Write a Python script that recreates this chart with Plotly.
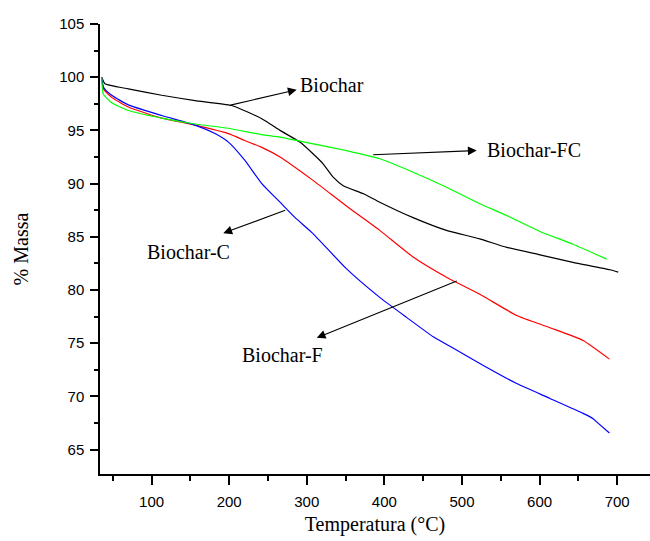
import plotly.graph_objects as go

# Biochar (black)
t_biochar = [35.7, 40, 70, 113, 156, 203, 242, 265.5, 291, 308, 321, 334, 347, 373, 394, 437, 480, 523, 557.6, 600.5, 643, 690.7, 701.4]
m_biochar = [100, 99.38, 98.9, 98.3, 97.8, 97.34, 96.1, 95.0, 93.9, 92.8, 91.86, 90.6, 89.8, 89.04, 88.25, 86.8, 85.6, 84.8, 84.0, 83.3, 82.6, 81.9, 81.67]

# Biochar-C (red)
t_c = [35.7, 38, 48.6, 70, 113, 156, 199, 220, 242, 265.5, 308, 351, 394, 437, 480, 523, 570.5, 613.4, 656, 690]
m_c = [100, 98.9, 98.1, 97.2, 96.15, 95.5, 94.7, 94.05, 93.4, 92.5, 90.3, 87.9, 85.6, 83.1, 81.2, 79.6, 77.6, 76.45, 75.25, 73.5]

# Biochar-F (blue)
t_f = [35.7, 38, 48.6, 70, 113, 156, 181.7, 199, 220, 242, 265.5, 285, 308, 351, 394, 429, 463, 484.5, 527.5, 570.5, 613.4, 656, 669, 673.5, 690]
m_f = [100, 99.06, 98.3, 97.4, 96.4, 95.5, 94.7, 93.9, 92.2, 90.0, 88.25, 86.8, 85.3, 82.0, 79.3, 77.4, 75.6, 74.7, 72.9, 71.2, 69.8, 68.4, 67.9, 67.6, 66.55]

# Biochar-FC (green)
t_fc = [35.7, 37.8, 48.6, 70, 113, 156, 199, 242, 265.5, 308, 351, 394, 437, 480, 523, 557.6, 600.5, 643, 686.5]
m_fc = [100, 98.4, 97.6, 96.87, 96.15, 95.6, 95.2, 94.6, 94.36, 93.74, 93.1, 92.33, 91.07, 89.66, 88.1, 87.0, 85.5, 84.3, 82.9]

x_ticks = [100, 200, 300, 400, 500, 600, 700]
y_ticks = [65, 70, 75, 80, 85, 90, 95, 100, 105]

# label text, arrow head (x, y), arrow tail (x, y), text position (x, y)
labels = ["Biochar", "Biochar-FC", "Biochar-C", "Biochar-F"]
head_x = [287, 519, 192.4, 312.8]
head_y = [98.82, 93.11, 85.34, 75.5]
tail_x = [199.7, 383.6, 274.1, 495.2]
tail_y = [97.34, 92.71, 87.54, 80.89]
text_x = [332, 593, 147.3, 268.7]
text_y = [99.3, 93.2, 83.6, 73.84]

fig = go.Figure()
for t, m, c in [(t_biochar, m_biochar, "black"), (t_c, m_c, "#FF0000"),
                (t_f, m_f, "#0000FF"), (t_fc, m_fc, "#00FF00")]:
    fig.add_trace(go.Scatter(x=t, y=m, mode="lines",
                             line=dict(color=c, width=1.2, shape="spline", smoothing=0.5),
                             showlegend=False, hoverinfo="skip"))

serif = "Liberation Serif, Times New Roman, serif"
for i, lab in enumerate(labels):
    fig.add_annotation(x=head_x[i], y=head_y[i], ax=tail_x[i], ay=tail_y[i],
                       xref="x", yref="y", axref="x", ayref="y", text="",
                       showarrow=True, arrowhead=2, arrowsize=1.6, arrowwidth=1.1,
                       arrowcolor="black")
    fig.add_annotation(x=text_x[i], y=text_y[i], xref="x", yref="y", text=lab,
                       showarrow=False, font=dict(family=serif, size=20, color="black"))

axis_common = dict(showline=True, linecolor="black", linewidth=1.5, ticks="outside",
                   tickcolor="black", tickwidth=1.5, showgrid=False, zeroline=False,
                   mirror=False, tickfont=dict(family="Liberation Sans, Arial, sans-serif",
                                               size=15, color="black"))

fig.update_xaxes(range=[33.5, 742.3], tickvals=x_ticks, ticklen=9,
                 minor=dict(dtick=50, tick0=0, ticks="outside", ticklen=5,
                            tickcolor="black", tickwidth=1.5),
                 title=dict(text="Temperatura (°C)", font=dict(family=serif, size=20, color="black"),
                            standoff=8),
                 ticklabelstandoff=4, **axis_common)
fig.update_yaxes(range=[62.7, 105], tickvals=y_ticks, ticklen=8,
                 minor=dict(dtick=2.5, tick0=0, ticks="outside", ticklen=4,
                            tickcolor="black", tickwidth=1.5),
                 title=dict(text="% Massa", font=dict(family=serif, size=20, color="black"),
                            standoff=25),
                 ticklabelstandoff=3, **axis_common)

fig.update_layout(width=650, height=541, plot_bgcolor="white", paper_bgcolor="white",
                  margin=dict(l=100, r=0, t=24, b=67), showlegend=False)

fig.write_html("out.html")
